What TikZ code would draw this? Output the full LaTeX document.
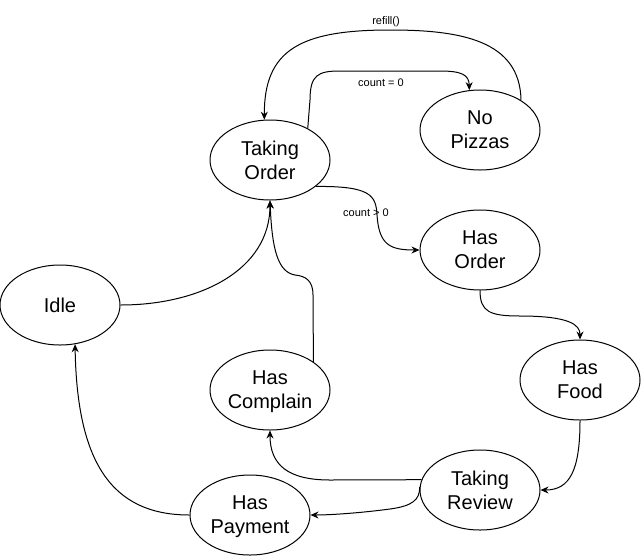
\documentclass[tikz,border=0pt]{standalone}
\usepackage{fontspec}
\setmainfont{Liberation Sans}
\usetikzlibrary{shapes.geometric,arrows.meta}
\tikzset{
  state/.style={ellipse, draw, line width=0.75pt, minimum width=90pt, minimum height=60pt,
    inner sep=0pt, align=center, text depth=0pt, font=\fontsize{15}{18}\selectfont},
  arr/.style={line width=0.75pt, -{Stealth[length=6pt,width=5.2pt]}},
  lbl/.style={font=\fontsize{8.25}{10}\selectfont, inner sep=0pt}
}
\begin{document}
\begin{tikzpicture}[x=0.75pt,y=-0.75pt]
\useasboundingbox (0,0) rectangle (641,557);
\node[state] (TO) at (270,160) {Taking\\Order};
\node[state] (NP) at (480,130) {No\\Pizzas};
\node[state] (HO) at (480,250) {Has\\Order};
\node[state] (HF) at (580,380) {Has\\Food};
\node[state] (TR) at (480,490) {Taking\\Review};
\node[state] (HC) at (270,390) {Has\\Complain};
\node[state] (HP) at (250,515) {Has\\Payment};
\node[state] (ID) at (60,305) {Idle};

% Taking Order -> No Pizzas
\draw[arr] (TO.40) -- (310,100) .. controls (310,75) and (318,71) .. (340,71)
  -- (440,71) .. controls (462,71) and (469,75) .. (NP.105);
\node[lbl] (l1) at (381,83) {count = 0};

% No Pizzas -> Taking Order
\draw[arr] (NP.36) .. controls (520,40) and (460,30) .. (390,30)
  .. controls (300,30) and (264,50) .. (TO.98);
\node[lbl] (l2) at (386,22) {refill()};

% Taking Order -> Has Order
\draw[arr] (TO.-30) .. controls (370,186) and (376,195) .. (377,215)
  .. controls (379,245) and (390,250) .. (HO.west);
\node[lbl] (l3) at (366,213) {count > 0};

% Has Order -> Has Food
\draw[arr] (HO.south) .. controls (480,312) and (490,316) .. (520,316)
  .. controls (570,316) and (580,325) .. (HF.north);

% Has Food -> Taking Review
\draw[arr] (HF.south) .. controls (580,470) and (570,490) .. (TR.east);

% Taking Review -> Has Complain
\draw[arr] (TR.170) -- (330,480) .. controls (288,480) and (270,465) .. (HC.south);

% Taking Review -> Has Payment
\draw[arr] (TR.177) .. controls (420,500) and (412,506) .. (390,509)
  .. controls (360,513) and (330,515) .. (HP.east);

% Has Payment -> Idle
\draw[arr] (HP.west) .. controls (110,515) and (77,460) .. (ID.-69);

% Idle -> Taking Order
\draw[arr] (ID.east) .. controls (200,305) and (270,270) .. (TO.south);

% Has Complain -> Taking Order
\draw[arr] (HC.33) -- (313,295) .. controls (313,280) and (305,276) .. (295,275)
  .. controls (278,272) and (272,250) .. (TO.south);
\end{tikzpicture}
\end{document}
